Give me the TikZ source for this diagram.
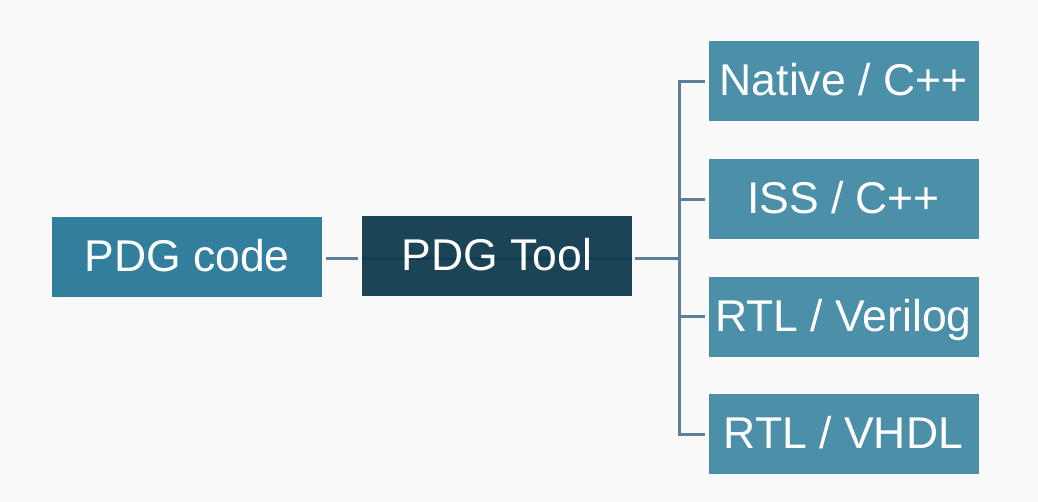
\documentclass[tikz,border=0pt]{standalone}
\usepackage{fontspec}
\setmainfont{Liberation Sans}
\definecolor{bgc}{HTML}{F9F9F9}
\definecolor{codec}{HTML}{327F9D}
\definecolor{toolc}{HTML}{1C4457}
\definecolor{leafc}{HTML}{4B8FA9}
\definecolor{linec}{HTML}{5E7F99}
\definecolor{stripec}{HTML}{0E3C52}
\begin{document}
\begin{tikzpicture}[x=1pt,y=-1pt,
  box/.style={minimum width=270pt, minimum height=80pt, inner sep=0pt, outer sep=0pt,
    text=white, font=\fontsize{44.5}{50}\selectfont, text height=31.8pt, text depth=3pt,
    anchor=north west},
  conn/.style={draw=linec, line width=3pt},
  stripe/.style={path picture={\draw[stripec, line width=3pt]
      ([yshift=-2pt]path picture bounding box.west) -- ([yshift=-2pt]path picture bounding box.east);}}]
\fill[bgc] (0,0) rectangle (1038,502);
\useasboundingbox (0,0) rectangle (1038,502);
\node[box, fill=codec] (code) at (52,217.5) {PDG code};
\node[box, fill=toolc, stripe] (tool) at (362,216.5) {PDG Tool};
\node[box, fill=leafc] (n1) at (708.5,41.5) {Native / C++};
\node[box, fill=leafc] (n2) at (708.5,159.2) {ISS / C++};
\node[box, fill=leafc] (n3) at (708.5,276.7) {RTL / Verilog};
\node[box, fill=leafc] (n4) at (708.5,394.2) {RTL / VHDL};
\coordinate (sp) at (679,0);
\coordinate (row) at (0,258.3);
\draw[conn] ([xshift=4pt]code.east |- row) -- ([xshift=-4pt]tool.west |- row);
\draw[conn] ([xshift=3pt]tool.east |- row) -- (sp |- row);
\draw[conn] ([xshift=-4pt]n1.west) -- (n1.west -| sp) -- (n4.west -| sp) -- ([xshift=-4pt]n4.west);
\draw[conn] (n2.west -| sp) -- ([xshift=-4pt]n2.west);
\draw[conn] (n3.west -| sp) -- ([xshift=-4pt]n3.west);
\end{tikzpicture}
\end{document}
